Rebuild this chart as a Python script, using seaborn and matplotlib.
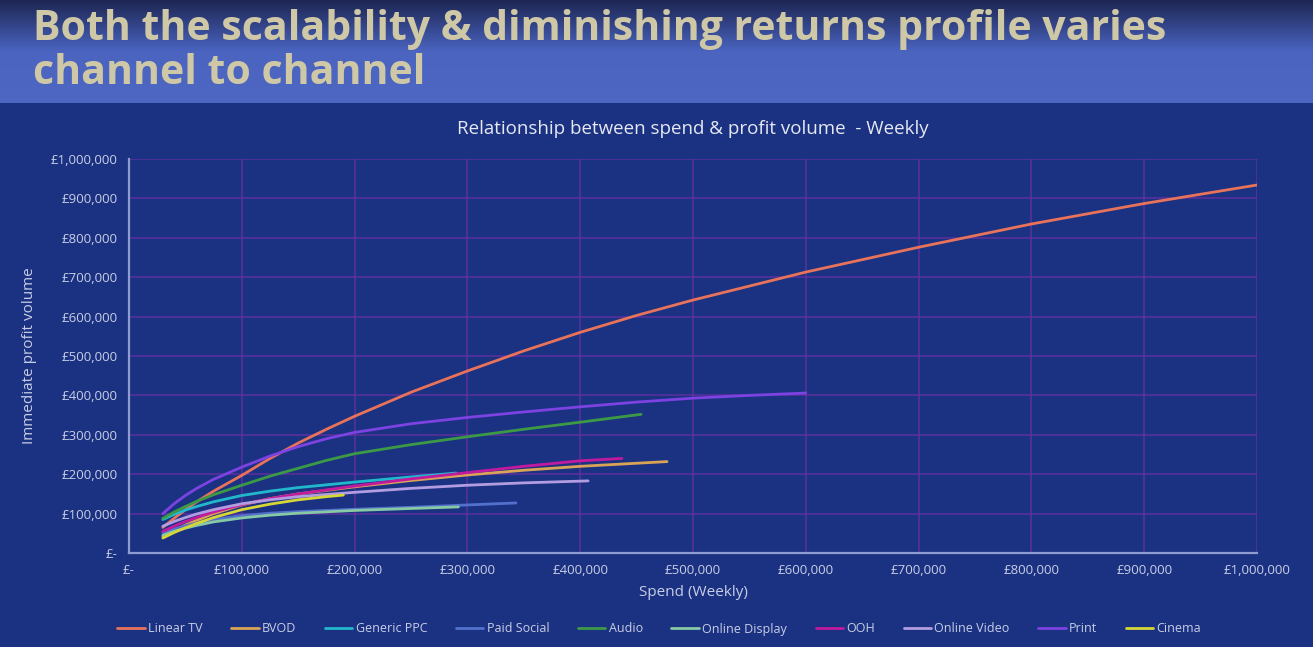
import numpy as np
import pandas as pd
import matplotlib
matplotlib.use("Agg")
import matplotlib.pyplot as plt
import seaborn as sns
from matplotlib.colors import LinearSegmentedColormap
from matplotlib.ticker import FuncFormatter

# ---------------- data ----------------
channels = ["Linear TV", "BVOD", "Generic PPC", "Paid Social", "Audio",
            "Online Display", "OOH", "Online Video", "Print", "Cinema"]

linear_tv_spend = [30000, 40000, 50000, 60000, 75000, 100000, 125000, 150000, 175000, 200000, 250000, 300000,
                   350000, 400000, 450000, 500000, 600000, 700000, 800000, 900000, 1000000]
linear_tv_profit = [65000, 88000, 110000, 130000, 157000, 197000, 240000, 279000, 314000, 347000, 408000, 462000,
                    513000, 560000, 603000, 642000, 713000, 776000, 835000, 887000, 934000]

bvod_spend = [30000, 40000, 50000, 60000, 75000, 100000, 125000, 150000, 200000, 250000, 300000, 350000, 400000, 477000]
bvod_profit = [42000, 57000, 71000, 83000, 100000, 122000, 138000, 150000, 168000, 184000, 198000, 210000, 220000, 232000]

ppc_spend = [30000, 40000, 50000, 60000, 75000, 100000, 125000, 150000, 175000, 200000, 250000, 290000]
ppc_profit = [85000, 98000, 109000, 118000, 130000, 146000, 157000, 166000, 173000, 180000, 193000, 203000]

social_spend = [30000, 40000, 50000, 60000, 75000, 100000, 125000, 150000, 200000, 250000, 300000, 343000]
social_profit = [52000, 61000, 69000, 76000, 85000, 95000, 101000, 105000, 111000, 116000, 122000, 127000]

audio_spend = [30000, 40000, 50000, 60000, 75000, 100000, 125000, 150000, 175000, 200000, 250000, 300000,
               350000, 400000, 454000]
audio_profit = [88000, 104000, 118000, 131000, 148000, 172000, 195000, 215000, 235000, 252000, 275000, 295000,
                314000, 332000, 352000]

display_spend = [30000, 40000, 50000, 60000, 75000, 100000, 125000, 150000, 200000, 250000, 292000]
display_profit = [45000, 55000, 63000, 70000, 79000, 89000, 96000, 101000, 108000, 113000, 117000]

ooh_spend = [30000, 40000, 50000, 60000, 75000, 100000, 125000, 150000, 200000, 250000, 300000, 350000, 400000, 437000]
ooh_profit = [55000, 68000, 80000, 90000, 104000, 123000, 138000, 150000, 170000, 188000, 204000, 220000, 234000, 240000]

video_spend = [30000, 40000, 50000, 60000, 75000, 100000, 125000, 150000, 200000, 250000, 300000, 350000, 407000]
video_profit = [68000, 80000, 90000, 99000, 110000, 125000, 135000, 143000, 154000, 164000, 172000, 178000, 183000]

print_spend = [30000, 40000, 50000, 60000, 75000, 100000, 125000, 150000, 175000, 200000, 250000, 300000,
               350000, 400000, 450000, 500000, 550000, 600000]
print_profit = [100000, 125000, 146000, 164000, 187000, 218000, 246000, 270000, 290000, 306000, 328000, 344000,
                358000, 371000, 383000, 393000, 400000, 406000]

cinema_spend = [30000, 40000, 50000, 60000, 75000, 100000, 125000, 150000, 175000, 190000]
cinema_profit = [38000, 52000, 64000, 75000, 90000, 110000, 124000, 135000, 143000, 147000]

x_ticks = [0, 100000, 200000, 300000, 400000, 500000, 600000, 700000, 800000, 900000, 1000000]
y_ticks = x_ticks

colors = ["#E8735A", "#D9A456", "#22B8CC", "#5270CC", "#3C9A46",
          "#86C9A4", "#C21A9E", "#B39DE2", "#7C42E2", "#D6D636"]

series = [(linear_tv_spend, linear_tv_profit), (bvod_spend, bvod_profit),
          (ppc_spend, ppc_profit), (social_spend, social_profit),
          (audio_spend, audio_profit), (display_spend, display_profit),
          (ooh_spend, ooh_profit), (video_spend, video_profit),
          (print_spend, print_profit), (cinema_spend, cinema_profit)]

rows = []
for name, (xs, ys) in zip(channels, series):
    for xv, yv in zip(xs, ys):
        rows.append({"channel": name, "spend": xv, "profit": yv})
df = pd.DataFrame(rows)

# ---------------- figure ----------------
BG = "#1B3282"
sns.set_theme(style="dark")
plt.rcParams["font.family"] = ["Open Sans", "DejaVu Sans"]

fig = plt.figure(figsize=(13.13, 6.47), dpi=100, facecolor=BG)

# title banner gradient
W, H = 1313, 647
ban_h = 103
bax = fig.add_axes([0, 1 - ban_h / H, 1, ban_h / H])
cmap = LinearSegmentedColormap.from_list("ban", [(0, "#1d2654"), (0.5, "#4a64c0"), (1, "#4d67c2")])
grad = np.linspace(0, 1, 200).reshape(-1, 1)
bax.imshow(grad, aspect="auto", cmap=cmap, extent=[0, 1, 0, 1], origin="upper")
bax.set_axis_off()
bax.set_xlim(0, 1); bax.set_ylim(0, 1)
fig.text(33 / W, 1 - 29 / H, "Both the scalability & diminishing returns profile varies",
         fontsize=29.5, fontweight="bold", color="#CFC8A6", va="center", ha="left")
fig.text(33 / W, 1 - 74 / H, "channel to channel",
         fontsize=29.5, fontweight="bold", color="#CFC8A6", va="center", ha="left")

ax = fig.add_axes([129 / W, 1 - 553 / H, (1257 - 129) / W, (553 - 159) / H])
ax.set_facecolor(BG)

sns.lineplot(data=df, x="spend", y="profit", hue="channel", hue_order=channels,
             palette=colors, estimator=None, sort=True, linewidth=2.0, ax=ax)

ax.set_xlim(0, 1000000)
ax.set_ylim(0, 1000000)
ax.set_xticks(x_ticks)
ax.set_yticks(y_ticks)

def money(v, pos=None):
    return "£-" if v == 0 else "£{:,.0f}".format(v)

ax.xaxis.set_major_formatter(FuncFormatter(money))
ax.yaxis.set_major_formatter(FuncFormatter(money))
ax.tick_params(axis="both", colors="#C9CEE6", labelsize=9.5, length=0, pad=8)
ax.grid(True, color="#6A2FA6", linewidth=1.2, alpha=0.75)
for s in ["top", "right"]:
    ax.spines[s].set_visible(False)
for s in ["left", "bottom"]:
    ax.spines[s].set_visible(True)
    ax.spines[s].set_color("#8E9CD2")
    ax.spines[s].set_linewidth(1.6)

ax.set_xlabel("Spend (Weekly)", color="#C9CEE6", fontsize=11, labelpad=6)
ax.set_ylabel("Immediate profit volume", color="#C9CEE6", fontsize=11, labelpad=10)
ax.set_title("Relationship between spend & profit volume  - Weekly",
             color="#E6E8F2", fontsize=13.5, pad=18)

handles, labels = ax.get_legend_handles_labels()
ax.legend_.remove()
fig.legend(handles, labels, loc="center", bbox_to_anchor=(0.502, 1 - 629 / H), ncol=10,
           frameon=False, fontsize=9, labelcolor="#C9CEE6", handlelength=2.2,
           columnspacing=2.3, handletextpad=0.25)

fig.savefig("out.png", dpi=100, facecolor=BG)
